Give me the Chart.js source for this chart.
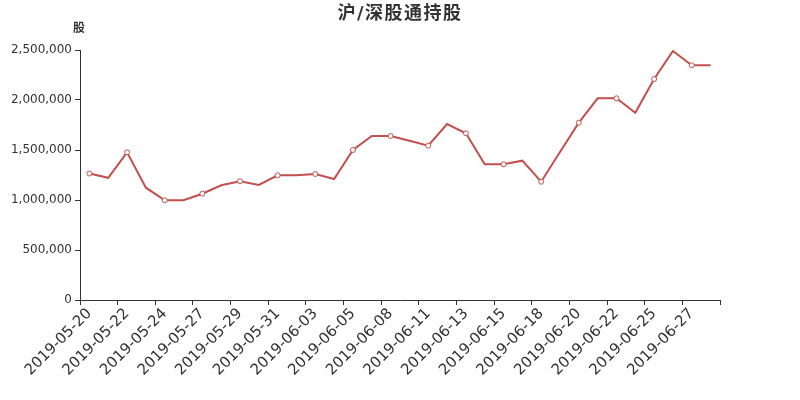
<!DOCTYPE html>
<html>
<head>
<meta charset="utf-8">
<script src="https://cdn.jsdelivr.net/npm/chart.js@4/dist/chart.umd.min.js"></script>
<style>
    html, body { margin: 0; padding: 0; background: #fff; }
    #wrap { width: 800px; height: 400px; }
</style>
</head>
<body>
<div id="wrap"><canvas id="holdChart"></canvas></div>
<script>
// Data
const dates = [
    '2019-05-20', '2019-05-21', '2019-05-22', '2019-05-23', '2019-05-24', '2019-05-25',
    '2019-05-27', '2019-05-28', '2019-05-29', '2019-05-30', '2019-05-31', '2019-06-01',
    '2019-06-03', '2019-06-04', '2019-06-05', '2019-06-06', '2019-06-08', '2019-06-10',
    '2019-06-11', '2019-06-12', '2019-06-13', '2019-06-14', '2019-06-15', '2019-06-17',
    '2019-06-18', '2019-06-19', '2019-06-20', '2019-06-21', '2019-06-22', '2019-06-24',
    '2019-06-25', '2019-06-26', '2019-06-27', '2019-06-28'
];
const holdings = [
    1265000, 1222000, 1477000, 1123000, 997000, 997000,
    1063000, 1147000, 1187000, 1150000, 1247000, 1247000,
    1260000, 1210000, 1500000, 1640000, 1640000, 1592000,
    1543000, 1760000, 1667000, 1357000, 1357000, 1393000,
    1183000, 1480000, 1773000, 2017000, 2017000, 1873000,
    2210000, 2490000, 2347000, 2347000
];
const yMax = 2500000;
const yStep = 500000;

const titleText = '沪/深股通持股';
const unitText = '股';
const lineColor = '#c1504d';
const axisColor = '#333';
const fontFamily = '"DejaVu Sans", "Noto Sans CJK SC", sans-serif';

// title centred on the whole canvas + small unit label above the y axis
const headerText = {
    id: 'headerText',
    afterDraw(chart) {
        const { ctx, chartArea, width } = chart;
        ctx.save();
        ctx.fillStyle = axisColor;
        ctx.textAlign = 'center';
        ctx.textBaseline = 'middle';

        ctx.font = 'bold 18px ' + fontFamily;
        if ('letterSpacing' in ctx) ctx.letterSpacing = '1.5px';
        ctx.fillText(titleText, width / 2, 14);
        if ('letterSpacing' in ctx) ctx.letterSpacing = '0px';

        ctx.font = 'bold 12px ' + fontFamily;
        ctx.fillText(unitText, chartArea.left - 1, chartArea.top - 21);
        ctx.restore();
    }
};

const ctx = document.getElementById('holdChart').getContext('2d');
const holdChart = new Chart(ctx, {
    type: 'line',
    data: {
        labels: dates,
        datasets: [{
            label: titleText,
            data: holdings,
            borderColor: lineColor,
            borderWidth: 2,
            backgroundColor: '#fff',
            pointBackgroundColor: '#fff',
            pointBorderColor: lineColor,
            pointBorderWidth: 1,
            pointRadius: (c) => (c.dataIndex % 2 === 0 ? 2.5 : 0),
            pointHoverRadius: 3,
            tension: 0,
            fill: false
        }]
    },
    options: {
        responsive: true,
        maintainAspectRatio: false,
        animation: false,
        layout: {
            padding: { left: 0, right: 80, top: 50, bottom: 0 }
        },
        plugins: {
            legend: { display: false },
            tooltip: { enabled: false },
            title: { display: false }
        },
        scales: {
            x: {
                offset: true,
                grid: {
                    offset: true,
                    drawOnChartArea: false,
                    drawTicks: true,
                    tickLength: 5,
                    color: (c) => {
                        if (c.type !== 'tick') return axisColor;
                        return c.index % 2 === 0 ? axisColor : 'rgba(0,0,0,0)';
                    }
                },
                border: { display: true, color: axisColor, width: 1 },
                ticks: {
                    autoSkip: false,
                    minRotation: 45,
                    maxRotation: 45,
                    padding: 0,
                    color: axisColor,
                    font: { family: fontFamily, size: 15 },
                    callback: function (value, index) {
                        return index % 2 === 0 ? this.getLabelForValue(value) : '';
                    }
                },
                afterFit: (scale) => { scale.height = 100; }
            },
            y: {
                min: 0,
                max: yMax,
                grid: {
                    drawOnChartArea: false,
                    drawTicks: true,
                    tickLength: 5,
                    color: axisColor
                },
                border: { display: true, color: axisColor, width: 1 },
                ticks: {
                    stepSize: yStep,
                    padding: 3,
                    color: axisColor,
                    font: { family: fontFamily, size: 12 },
                    callback: (v) => v.toLocaleString('en-US')
                },
                afterFit: (scale) => { scale.width = 80; }
            }
        }
    },
    plugins: [headerText]
});
</script>
</body>
</html>
